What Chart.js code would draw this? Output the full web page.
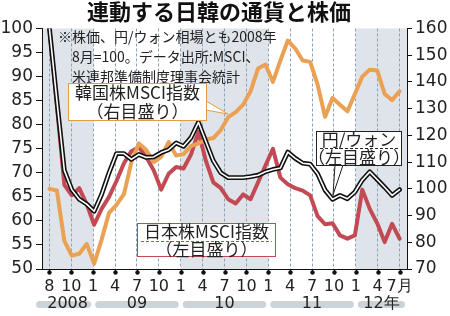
<!DOCTYPE html>
<html lang="ja">
<head>
<meta charset="utf-8">
<title>連動する日韓の通貨と株価</title>
<script src="https://cdn.jsdelivr.net/npm/chart.js@4.4.1/dist/chart.umd.min.js"></script>
<style>
  html, body { margin: 0; padding: 0; background: #fff; }
  #grafico { display: block; }
</style>
</head>
<body>
<canvas id="grafico" width="450" height="316"></canvas>
<script>
/* dados mensais 2008/8 .. 2012/7 (2008年8月 = 100) */
const meses = [
  "2008/8", "2008/9", "2008/10", "2008/11", "2008/12",
  "2009/1", "2009/2", "2009/3", "2009/4", "2009/5", "2009/6", "2009/7", "2009/8", "2009/9", "2009/10", "2009/11", "2009/12",
  "2010/1", "2010/2", "2010/3", "2010/4", "2010/5", "2010/6", "2010/7", "2010/8", "2010/9", "2010/10", "2010/11", "2010/12",
  "2011/1", "2011/2", "2011/3", "2011/4", "2011/5", "2011/6", "2011/7", "2011/8", "2011/9", "2011/10", "2011/11", "2011/12",
  "2012/1", "2012/2", "2012/3", "2012/4", "2012/5", "2012/6", "2012/7"
];

// 円/ウォン (左目盛り)
const ieneWon = [
  100, 85, 70.5, 66.5, 64.5,
  63.5, 62, 65.5, 70, 74, 74, 72.8, 73.8, 73.2, 73.3, 74.2, 74.8,
  76.2, 75.5, 77.3, 80.5, 76.5, 72.5, 70, 69, 69, 69, 69.2, 69.5,
  70.2, 70.7, 71, 74.3, 73, 72, 71.8, 69.8, 66.4, 64.5, 65.3, 64.6,
  66, 68.5, 70.2, 68.6, 67, 65.3, 66.5
];

// 日本株MSCI指数 (左目盛り)
const japaoMsci = [
  100, 84, 67.5, 65.3, 66.8,
  63.5, 59.2, 62.5, 65, 68.3, 72, 74.5, 75.3, 73.3, 70.5, 66.5, 69.8,
  71.2, 70.9, 73.8, 78.5, 72.5, 68, 66.8, 64.5, 63.6, 65.5, 64.5, 68,
  71.5, 75, 69, 67.6, 66.8, 66.3, 65.3, 61, 59.3, 59.5, 57, 56.3,
  57, 66.5, 62.5, 59.5, 55.6, 59.4, 56.3
];

// 韓国株MSCI指数 (右目盛り)
const coreiaMsci = [
  100, 99.4, 80.5, 75, 75.7,
  79.4, 72, 81, 91, 94, 98, 110, 117, 114.5, 110, 112, 117.5,
  112.5, 113, 116, 117, 118.5, 119, 122, 126.8, 128.7, 131.5, 136.5, 145,
  146.5, 140, 148, 155.5, 152.5, 148, 147.5, 139, 127, 134, 131.5, 129,
  135.5, 142, 144.6, 144.3, 135.5, 133.2, 136.5
];

const rotulosMes = ["8", "10", "1", "4", "7", "10", "1", "4", "7", "10", "1", "4", "7", "10", "1", "4", "7月"];
const rotulosAno = ["2008", "09", "10", "11", "12年"];
const inicioAno = [2, 6, 10, 14]; // índice do rótulo "1" de cada ano

const escalaEsq = { min: 50, max: 100, passo: 5 };
const escalaDir = { min: 70, max: 160, passo: 10 };

(function () {
  const FONTE_NUM = "'DejaVu Sans', sans-serif";
  const FONTE_JP = "'Noto Sans CJK JP', sans-serif";

  const ultimo = meses.length - 1;
  // as marcas trimestrais ficam espalhadas por igual do primeiro ao último mês
  const posMarcas = rotulosMes.map((_, j) => j * ultimo / (rotulosMes.length - 1));

  const pontos = (serie) => serie.map((v, k) => ({ x: k, y: v }));

  function limitesAnos(x) {
    const b = [x.min, ...inicioAno.map(j => posMarcas[j]), x.max];
    return b.map(v => x.getPixelForValue(v));
  }

  const fundoAnos = {
    id: "fundoAnos",
    beforeDraw(chart) {
      const { ctx, chartArea: a, scales: { x } } = chart;
      const px = limitesAnos(x);
      ctx.save();
      ctx.fillStyle = "#dfe4ea";
      for (let i = 0; i < px.length - 1; i += 2) {
        ctx.fillRect(px[i], a.top, px[i + 1] - px[i], a.bottom - a.top);
      }
      ctx.restore();
    }
  };

  function caixa(ctx, c) {
    ctx.save();
    if (c.ponta) {
      ctx.beginPath();
      ctx.moveTo(c.ponta[0][0], c.ponta[0][1]);
      ctx.lineTo(c.ponta[1][0], c.ponta[1][1]);
      ctx.lineTo(c.ponta[2][0], c.ponta[2][1]);
      ctx.fillStyle = "#fff";
      ctx.fill();
      ctx.strokeStyle = c.cor;
      ctx.lineWidth = 1;
      ctx.stroke();
    }
    ctx.fillStyle = "#fff";
    ctx.fillRect(c.x, c.y, c.w, c.h);
    ctx.strokeStyle = c.cor;
    ctx.lineWidth = 1;
    ctx.strokeRect(c.x + 0.5, c.y + 0.5, c.w - 1, c.h - 1);
    if (c.tracejado) {
      ctx.setLineDash([3, 2]);
      ctx.beginPath();
      ctx.moveTo(c.x + 4, c.tracejado + 0.5);
      ctx.lineTo(c.x + c.w - 4, c.tracejado + 0.5);
      ctx.stroke();
      ctx.setLineDash([]);
    }
    ctx.fillStyle = "#222";
    ctx.font = "17px " + FONTE_JP;
    ctx.textAlign = "center";
    ctx.textBaseline = "middle";
    c.linhas.forEach((t, i) => ctx.fillText(t, c.x + c.w / 2, c.ys[i]));
    ctx.restore();
  }

  const anotacoes = {
    id: "anotacoes",
    afterDraw(chart) {
      const { ctx, chartArea: a, scales: { x } } = chart;

      // marcas com bolinha no eixo x
      ctx.save();
      ctx.fillStyle = "#111";
      ctx.strokeStyle = "#111";
      posMarcas.forEach(v => {
        const px = Math.round(x.getPixelForValue(v)) + 0.5;
        ctx.beginPath();
        ctx.moveTo(px, a.bottom);
        ctx.lineTo(px, a.bottom + 3);
        ctx.stroke();
        ctx.beginPath();
        ctx.arc(px, a.bottom + 3.5, 2.2, 0, Math.PI * 2);
        ctx.fill();
      });

      // faixas dos anos
      const px = limitesAnos(x);
      ctx.font = "16px " + FONTE_NUM;
      ctx.textAlign = "center";
      ctx.textBaseline = "middle";
      for (let i = 0; i < px.length - 1; i++) {
        const x1 = px[i] + (i === 0 ? -6 : 2);
        const x2 = px[i + 1] - 2;
        ctx.fillStyle = "#ccd3d9";
        ctx.beginPath();
        ctx.roundRect(x1, 301, x2 - x1, 7, 3.5);
        ctx.fill();
        ctx.fillStyle = "#222";
        ctx.fillText(rotulosAno[i], (px[i] + px[i + 1]) / 2, 304);
      }

      // título
      ctx.font = "bold 22px " + FONTE_JP;
      ctx.fillStyle = "#111";
      ctx.fillText("連動する日韓の通貨と株価", 219, 12);

      // nota
      ctx.font = "14px " + FONTE_JP;
      ctx.textAlign = "left";
      ctx.fillStyle = "#222";
      ctx.fillText("※株価、円/ウォン相場とも2008年", 58, 37);
      ctx.fillText("8月=100。データ出所:MSCI、", 72, 57);
      ctx.fillText("米連邦準備制度理事会統計", 72, 77);
      ctx.restore();

      caixa(ctx, {
        x: 68, y: 83, w: 139, h: 38, cor: "#e39a4a",
        linhas: ["韓国株MSCI指数", "（右目盛り）"], ys: [92.5, 112],
        ponta: [[206, 101], [228, 114], [206, 110]]
      });
      caixa(ctx, {
        x: 137, y: 223, w: 139, h: 34, cor: "#c24a52",
        linhas: ["日本株MSCI指数", "（左目盛り）"], ys: [232, 250], tracejado: 241
      });
      caixa(ctx, {
        x: 316, y: 131, w: 86, h: 35, cor: "#222",
        linhas: ["円/ウォン", "（左目盛り）"], ys: [140, 158], tracejado: 148,
        ponta: [[335, 165], [333, 195], [343, 165]]
      });
    }
  };

  const eixoY = (esc, lado) => ({
    position: lado,
    min: esc.min,
    max: esc.max,
    afterFit(s) { s.width = lado === "left" ? 42 : 43; },
    border: { display: true, color: "#111", width: 1 },
    grid: { drawOnChartArea: false, color: "#111", tickLength: lado === "left" ? 6 : 5 },
    ticks: {
      stepSize: esc.passo,
      padding: 3,
      color: "#222",
      font: { family: FONTE_NUM, size: 17 }
    }
  });

  new Chart(document.getElementById("grafico"), {
    type: "line",
    data: {
      datasets: [
        { label: "円/ウォン", data: pontos(ieneWon), yAxisID: "yE", borderColor: "#fff", borderWidth: 1.6 },
        { label: "円/ウォン", data: pontos(ieneWon), yAxisID: "yE", borderColor: "#111", borderWidth: 4.8 },
        { label: "韓国株MSCI指数", data: pontos(coreiaMsci), yAxisID: "yD", borderColor: "#eaa153", borderWidth: 4 },
        { label: "日本株MSCI指数", data: pontos(japaoMsci), yAxisID: "yE", borderColor: "#c24a54", borderWidth: 4 }
      ]
    },
    options: {
      responsive: false,
      animation: false,
      layout: { padding: { top: 28.5 } },
      elements: {
        point: { radius: 0 },
        line: { tension: 0, borderCapStyle: "round", borderJoinStyle: "round" }
      },
      plugins: { legend: { display: false }, tooltip: { enabled: false } },
      scales: {
        x: {
          type: "linear",
          min: -1,
          max: ultimo + 1,
          afterFit(s) { s.height = 47; },
          afterBuildTicks(s) { s.ticks = posMarcas.map(v => ({ value: v })); },
          border: { display: true, color: "#111", width: 1, dash: [3, 2] },
          grid: { color: "#8da2b6", drawTicks: false },
          ticks: {
            autoSkip: false,
            maxRotation: 0,
            padding: 8,
            color: "#222",
            font: { family: FONTE_NUM, size: 16 },
            callback: (v, i) => rotulosMes[i]
          }
        },
        yE: eixoY(escalaEsq, "left"),
        yD: eixoY(escalaDir, "right")
      }
    },
    plugins: [fundoAnos, anotacoes]
  });
})();
</script>
</body>
</html>
